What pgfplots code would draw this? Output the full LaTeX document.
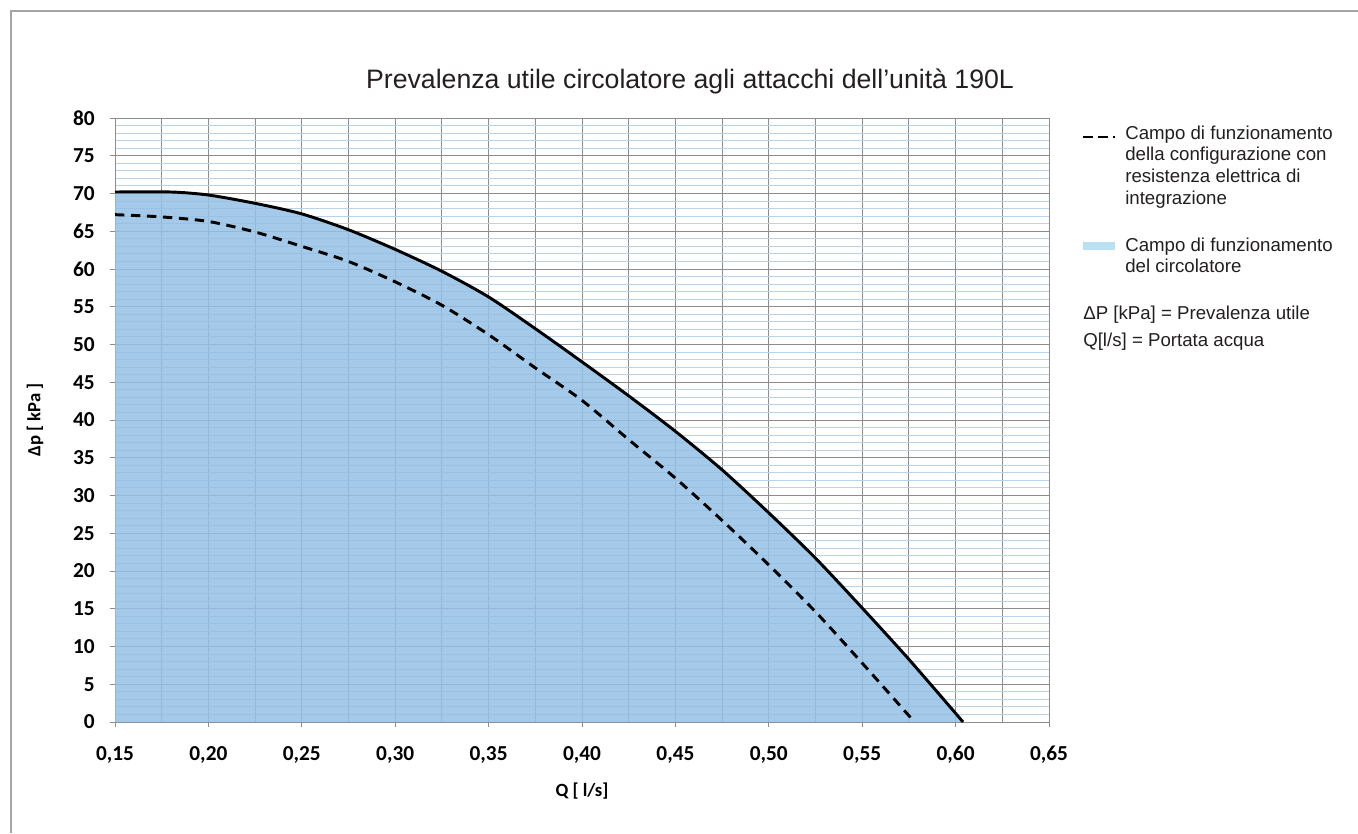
\documentclass[border=0pt]{standalone}
\usepackage{fontspec}
\setmainfont{Liberation Sans}
\newfontfamily\carlito{Carlito}
\usepackage{pgfplots}
\pgfplotsset{compat=1.18}
\usepackage{pgfplotstable}

\definecolor{gridgray}{RGB}{140,140,140}
\definecolor{minorblue}{RGB}{185,211,235}
\definecolor{fillblue}{RGB}{148,191,229}
\definecolor{legblue}{RGB}{185,225,242}
\definecolor{txt}{RGB}{35,31,32}
\definecolor{framegray}{RGB}{165,165,165}

\pgfplotstableread{
q dp
0.150 70.2
0.180 70.2
0.200 69.8
0.225 68.7
0.250 67.3
0.275 65.2
0.300 62.6
0.325 59.7
0.350 56.3
0.375 52.1
0.400 47.7
0.425 43.2
0.450 38.5
0.475 33.4
0.500 27.7
0.525 21.7
0.550 15.1
0.575 8.3
0.604 0.0
}\solidtab

\pgfplotstableread{
q dp
0.150 67.2
0.175 66.9
0.200 66.3
0.225 64.9
0.250 63.0
0.275 61.0
0.300 58.3
0.325 55.2
0.350 51.3
0.375 46.9
0.400 42.6
0.425 37.4
0.450 32.3
0.475 26.7
0.500 20.8
0.525 14.6
0.550 7.8
0.578 0.0
}\dashtab

\begin{document}
\begin{tikzpicture}
\useasboundingbox (0,0) rectangle (1018.5pt,624.75pt);
\draw[framegray, line width=1.5pt] (8.25pt,0) -- (8.25pt,616.5pt) -- (1018.5pt,616.5pt);

\begin{axis}[
  at={(86.25pt,83.25pt)}, anchor=south west,
  scale only axis, width=700.5pt, height=453pt,
  xmin=0.15, xmax=0.65, ymin=0, ymax=80,
  xtick={0.15,0.20,0.25,0.30,0.35,0.40,0.45,0.50,0.55,0.60,0.65},
  xticklabels={{0,15},{0,20},{0,25},{0,30},{0,35},{0,40},{0,45},{0,50},{0,55},{0,60},{0,65}},
  minor x tick num=1,
  ytick={0,5,...,80},
  minor y tick num=4,
  grid=both,
  major grid style={gridgray, line width=0.75pt},
  minor x grid style={gridgray, line width=0.75pt},
  minor y grid style={minorblue, line width=0.75pt},
  axis line style={gridgray, line width=0.75pt},
  tick style={gridgray, line width=0.75pt},
  tick align=outside, tick pos=left,
  major tick length=4pt, minor tick length=0pt,
  /pgf/number format/assume math mode=true,
  ticklabel style={font=\carlito\bfseries\fontsize{16}{16}\selectfont, text=black},
  xticklabel style={anchor=base, inner sep=0pt, yshift=-25pt},
  yticklabel style={anchor=east, inner sep=0pt, xshift=-11pt},
  xlabel={Q [ l/s]},
  ylabel={Δp [ kPa ]},
  label style={font=\carlito\bfseries\fontsize{14}{14}\selectfont, text=black},
  xlabel style={at={(axis description cs:0.5,-0.114)}, anchor=center},
  ylabel style={at={(axis description cs:-0.0857,0.5)}, anchor=center},
]
\addplot[draw=none, fill=fillblue, fill opacity=0.85, smooth, tension=0.45] table[x=q,y=dp] {\solidtab} \closedcycle;
\addplot[black, line width=2.2pt, smooth, tension=0.45] table[x=q,y=dp] {\solidtab};
\addplot[black, line width=2.2pt, dash pattern=on 7pt off 5pt, smooth, tension=0.45] table[x=q,y=dp] {\dashtab};
\end{axis}

\node[anchor=base, font=\fontsize{20}{24}\selectfont, text=txt, inner sep=0pt] at (517.5pt,558pt) {Prevalenza utile circolatore agli attacchi dell’unità 190L};

\draw[black, line width=2.2pt] (812.25pt,522pt) -- (819.75pt,522pt);
\draw[black, line width=2.2pt] (823.5pt,522pt) -- (831pt,522pt);
\draw[black, line width=1pt] (834.75pt,522pt) -- (836.25pt,522pt);
\fill[legblue] (812.25pt,437.6pt) rectangle (836.25pt,442.9pt);

\begin{scope}[every node/.style={anchor=base west, inner sep=0pt, text=txt, font=\fontsize{14}{16}\selectfont}]
\node at (843.75pt,520.1pt) {Campo di funzionamento};
\node at (843.75pt,504pt) {della configurazione con};
\node at (843.75pt,487.5pt) {resistenza elettrica di};
\node at (843.75pt,471pt) {integrazione};
\node at (843.75pt,435.975pt) {Campo di funzionamento};
\node at (843.75pt,420pt) {del circolatore};
\node at (812.25pt,384.75pt) {ΔP [kPa] = Prevalenza utile};
\node at (812.25pt,365.25pt) {Q[l/s] = Portata acqua};
\end{scope}
\end{tikzpicture}
\end{document}
